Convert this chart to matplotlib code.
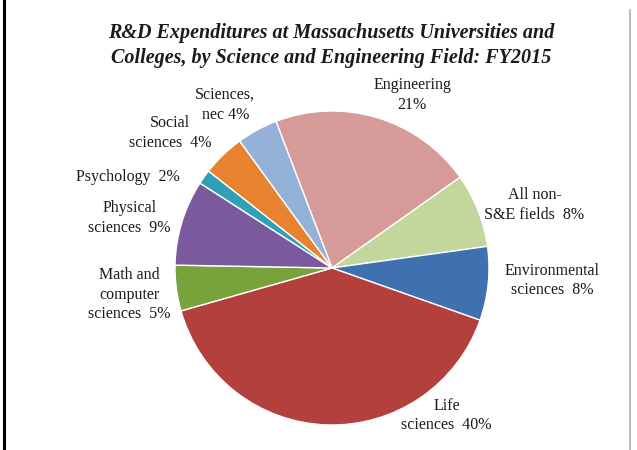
import matplotlib.pyplot as plt
from matplotlib.lines import Line2D

# data (share of R&D spending, %)
fields = ['Engineering', 'All non-\nS&E fields', 'Environmental\nsciences', 'Life\nsciences',
          'Math and\ncomputer\nsciences', 'Physical\nsciences', 'Psychology', 'Social\nsciences',
          'Sciences,\nnec']
shares = [21.0, 7.6, 7.6, 40.2, 4.7, 8.8, 1.5, 4.4, 4.2]
pct_text = ['21%', '8%', '8%', '40%', '5%', '9%', '2%', '4%', '4%']

colors = ['#D69A98', '#C3D69B', '#3F70AF', '#B3403D', '#77A23C',
          '#7A5A9C', '#2FA0B6', '#E7832F', '#94B2D8']

# where each label sits (data units, pie radius = 1)
label_xy = [(0.51, 1.10), (1.29, 0.40), (1.40, -0.08), (0.73, -0.94), (-1.29, -0.17),
            (-1.29, 0.32), (-1.30, 0.58), (-1.03, 0.86), (-0.68, 1.04)]

plt.rcParams['font.family'] = ['Liberation Serif', 'DejaVu Serif']

W, H = 637, 450
fig = plt.figure(figsize=(W / 100, H / 100), dpi=100)
ax = fig.add_axes([0, 0, 1, 1])

cx, cy, r = 332, 268, 157
ax.pie(shares, colors=colors, startangle=110.9, counterclock=False,
       wedgeprops=dict(edgecolor='white', linewidth=1.0))
ax.set_xlim(-cx / r, (W - cx) / r)
ax.set_ylim((cy - H) / r, cy / r)
ax.set_aspect('auto')
ax.axis('off')

for name, pct, (x, y) in zip(fields, pct_text, label_xy):
    # Engineering puts the percent on its own line, the others append it
    if name == 'Engineering':
        txt = name + '\n' + pct
    elif name == 'Sciences,\nnec':
        txt = name + ' ' + pct
    else:
        txt = name + '  ' + pct
    ax.text(x, y, txt, ha='center', va='center', fontsize=11.5, color='#1a1a1a',
            linespacing=1.3)

fig.text(0.52, 0.899,
         'R&D Expenditures at Massachusetts Universities and\n'
         'Colleges, by Science and Engineering Field: FY2015',
         ha='center', va='center', fontsize=14.5, fontweight='bold', fontstyle='italic',
         color='#1a1a1a', linespacing=1.35)

# frame lines seen at the image edges
fig.add_artist(Line2D([4 / W, 4 / W], [0, 1], color='black', linewidth=2.2))
fig.add_artist(Line2D([629.5 / W, 629.5 / W], [0, 1 - 10 / H], color='#b0b0b0', linewidth=1.2))

fig.savefig('out.png', dpi=100, facecolor='white')
